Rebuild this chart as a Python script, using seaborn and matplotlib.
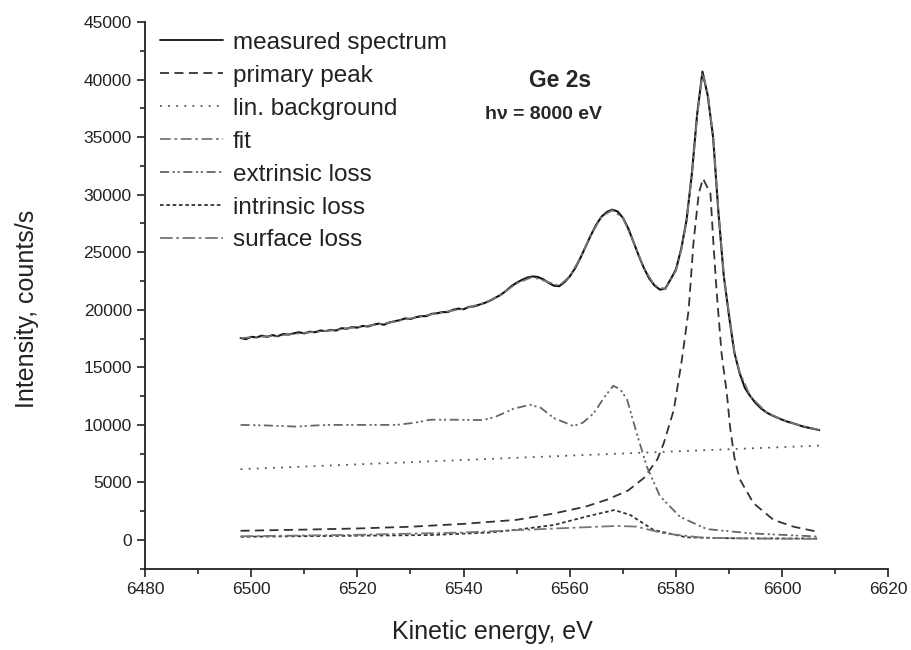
import pandas as pd
import seaborn as sns
import matplotlib.pyplot as plt
from matplotlib.ticker import MultipleLocator

# Ge 2s spectrum at hv = 8000 eV
energy_meas = list(range(6498, 6608))
measured = [17550, 17450, 17650, 17600, 17750, 17650, 17800, 17700, 17900, 17850,
            17950, 18050, 17950, 18100, 18050, 18200, 18150, 18250, 18200, 18400,
            18350, 18500, 18450, 18600, 18550, 18700, 18800, 18700, 18900, 19000,
            19100, 19250, 19200, 19350, 19450, 19450, 19650, 19700, 19800, 19800,
            20000, 20100, 20050, 20250, 20300, 20450, 20600, 20800, 21050, 21300,
            21650, 22050, 22350, 22600, 22800, 22900, 22850, 22650, 22350, 22100,
            22050, 22400, 22900, 23600, 24500, 25500, 26500, 27400, 28100, 28500,
            28700, 28550, 28000, 27100, 25900, 24700, 23600, 22700, 22100, 21750,
            21850, 22650, 23500, 25300, 27800, 31800, 37000, 40700, 38600, 35000,
            28500, 23000, 19500, 16300, 14500, 13200, 12500, 11900, 11450, 11100,
            10850, 10650, 10450, 10280, 10150, 10000, 9850, 9750, 9650, 9550]

energy_primary = [6498, 6510, 6520, 6530, 6540, 6550, 6557, 6563, 6567, 6571, 6574,
                  6576.5, 6577.7, 6579.6, 6581.1, 6582.4, 6583.3, 6584.3, 6585.1,
                  6586.5, 6587.1, 6587.7, 6588.6, 6589.6, 6590.2, 6591, 6592,
                  6594.6, 6598.4, 6602.2, 6606.6]
primary = [800, 900, 1000, 1150, 1400, 1750, 2300, 2900, 3500, 4300, 5400,
           7000, 8400, 11300, 15600, 20000, 25800, 30100, 31400,
           30100, 25500, 21400, 16200, 12700, 9800, 7200, 5300,
           3200, 1740, 1150, 720]

energy_bg = [6498, 6552, 6607]
background = [6150, 7180, 8200]

energy_fit = [6498, 6505, 6510, 6515, 6520, 6525, 6530, 6535, 6540, 6544, 6547,
              6550, 6553, 6556, 6558, 6560, 6562, 6564, 6566, 6568, 6570, 6572,
              6574, 6576, 6578, 6580, 6581, 6582, 6583, 6584, 6585, 6586, 6587,
              6588, 6589, 6590, 6591, 6592, 6594, 6597, 6600, 6603, 6607]
fit = [17550, 17750, 18000, 18200, 18500, 18800, 19250, 19700, 20100, 20600, 21300,
       22300, 22850, 22400, 22100, 22900, 24500, 26500, 28100, 28650, 28000, 25900,
       23600, 22100, 21800, 23400, 25200, 27700, 31700, 36800, 40600, 38800, 35100,
       28600, 23100, 19600, 16400, 14600, 12500, 11100, 10450, 10000, 9550]

energy_ext = [6498, 6503, 6508.6, 6512, 6515, 6520, 6527.4, 6531, 6533.7, 6538,
              6543.7, 6546, 6549.4, 6552.5, 6554.5, 6557, 6560.7, 6562.5, 6564.5,
              6566.5, 6568.2, 6569.5, 6570.8, 6572.6, 6574.5, 6577, 6580.8, 6585.8,
              6594, 6606.6]
extrinsic = [10000, 9950, 9850, 9950, 10000, 10000, 10000, 10200, 10450, 10450,
             10420, 10700, 11400, 11750, 11500, 10600, 9900, 10200, 11000,
             12400, 13400, 13100, 12200, 9300, 6400, 3800, 2000, 950,
             580, 300]

energy_int = [6498, 6510, 6520, 6533.7, 6545, 6550.7, 6557, 6563, 6568.4, 6571.4,
              6575.8, 6582, 6590, 6606.6]
intrinsic = [280, 330, 370, 430, 650, 930, 1300, 2020, 2600, 2170,
             870, 230, 150, 120]

energy_surf = [6498, 6520, 6540, 6550.7, 6560, 6568.9, 6572.6, 6577.7, 6585, 6595, 6606.6]
surface = [320, 450, 650, 870, 1050, 1220, 1160, 580, 200, 120, 100]

series_names = ['measured spectrum', 'primary peak', 'lin. background', 'fit',
                'extrinsic loss', 'intrinsic loss', 'surface loss']

frames = []
for name, xs, ys in zip(series_names,
                        [energy_meas, energy_primary, energy_bg, energy_fit,
                         energy_ext, energy_int, energy_surf],
                        [measured, primary, background, fit,
                         extrinsic, intrinsic, surface]):
    frames.append(pd.DataFrame({'energy': xs, 'intensity': ys, 'series': name}))
df = pd.concat(frames, ignore_index=True)

colors = {'measured spectrum': '#111111', 'primary peak': '#333333',
          'lin. background': '#555555', 'fit': '#777777',
          'extrinsic loss': '#666666', 'intrinsic loss': '#333333',
          'surface loss': '#777777'}
dashes = {'measured spectrum': '', 'primary peak': (5, 3),
          'lin. background': (1, 3.5), 'fit': (6, 2, 1.5, 2),
          'extrinsic loss': (5, 2, 1.2, 1.5, 1.2, 2), 'intrinsic loss': (2, 1.5),
          'surface loss': (7, 2, 1.5, 2)}

sns.set_style('ticks')
plt.rcParams['font.family'] = ['Liberation Sans', 'DejaVu Sans']

fig = plt.figure(figsize=(9.12, 6.5), dpi=100)
ax = fig.add_axes([0.159, 0.125, 0.815, 0.841])

sns.lineplot(data=df, x='energy', y='intensity', hue='series', style='series',
             hue_order=series_names, style_order=series_names,
             palette=colors, dashes=dashes, estimator=None, sort=False,
             linewidth=1.3, ax=ax)
ax.lines[0].set_linewidth(1.5)

ax.set_xlim(6480, 6620)
ax.set_ylim(-2500, 45000)
ax.xaxis.set_major_locator(MultipleLocator(20))
ax.xaxis.set_minor_locator(MultipleLocator(10))
ax.yaxis.set_major_locator(MultipleLocator(5000))
ax.yaxis.set_minor_locator(MultipleLocator(2500))
ax.tick_params(which='major', direction='out', length=6, width=1.2, labelsize=12.5,
               colors='#222222')
ax.tick_params(which='minor', direction='out', length=3.5, width=1.2)
for sp in ['left', 'bottom']:
    ax.spines[sp].set_linewidth(1.3)
    ax.spines[sp].set_color('#222222')
sns.despine(ax=ax)

ax.set_xlabel('Kinetic energy, eV', fontsize=18, color='#222222')
ax.set_ylabel('Intensity, counts/s', fontsize=18, color='#222222')
ax.xaxis.set_label_coords(0.467, -0.093)
ax.yaxis.set_label_coords(-0.143, 0.475)

ax.text(6552.3, 39900, 'Ge 2s', fontsize=16.5, fontweight='bold', va='center')
ax.text(6544, 37000, 'h\u03bd = 8000 eV', fontsize=14, fontweight='bold', va='center')

leg = ax.legend(loc='upper left', bbox_to_anchor=(0.0, 1.009), frameon=False,
                fontsize=17.5, handlelength=2.6, handletextpad=0.4,
                labelspacing=0.45, borderaxespad=0.2)
for t in leg.get_texts():
    t.set_color('#222222')

plt.savefig('out.png', dpi=100)
